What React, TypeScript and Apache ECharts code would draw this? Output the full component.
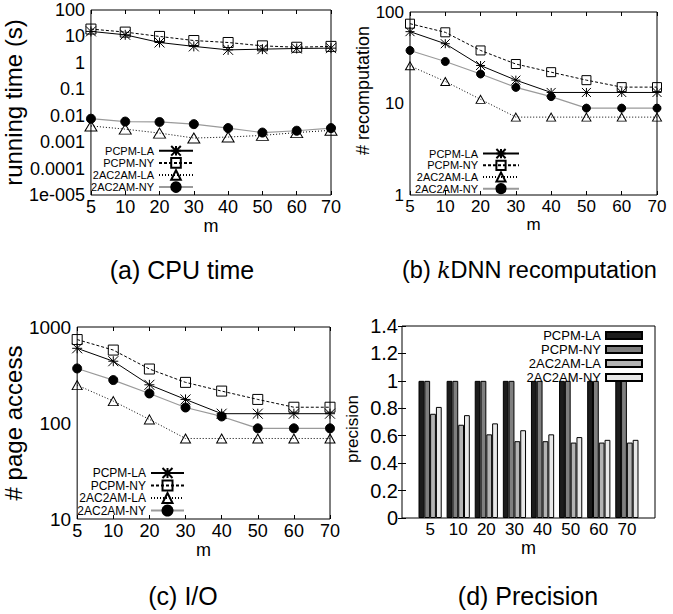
import React, { useEffect, useRef } from 'react';
import * as echarts from 'echarts';

const mValues = ['5', '10', '20', '30', '40', '50', '60', '70'];
const seriesNames = ['PCPM-LA', 'PCPM-NY', '2AC2AM-LA', '2AC2AM-NY'];

// (a) CPU time (s)
const cpuPcpmLA = [15.5, 11.5, 5.9, 4.2, 3.1, 3.3, 3.5, 3.6];
const cpuPcpmNY = [19, 14.6, 10, 7, 5.9, 4.4, 3.9, 4.2];
const cpu2acLA = [0.0041, 0.0031, 0.0022, 0.00143, 0.00156, 0.0018, 0.0023, 0.0028];
const cpu2acNY = [0.0077, 0.006, 0.0058, 0.0048, 0.0034, 0.0023, 0.0027, 0.0034];
const cpuTicks = ['1e-005', '0.0001', '0.001', '0.01', '0.1', '1', '10', '100'];

// (b) # recomputation
const recPcpmLA = [61, 45, 26, 18, 13.2, 13.2, 13.2, 13.2];
const recPcpmNY = [74.5, 60, 38, 27, 22, 18, 15.1, 15.1];
const rec2acLA = [25.8, 17.4, 11.1, 7.1, 7.1, 7.1, 7.1, 7.1];
const rec2acNY = [38, 28.8, 21, 15, 11.9, 8.9, 8.9, 8.9];
const recTicks = ['1', '10', '100'];

// (c) # page access
const ioPcpmLA = [600, 440, 250, 176, 125, 125, 125, 125];
const ioPcpmNY = [740, 575, 365, 265, 215, 176, 146, 146];
const io2acLA = [248, 169, 109, 69, 69, 69, 69, 69];
const io2acNY = [370, 280, 203, 145, 117, 88, 88, 88];
const ioTicks = ['10', '100', '1000'];

// (d) precision
const precPcpmLA = [1, 1, 1, 1, 1, 1, 1, 1];
const precPcpmNY = [1, 1, 1, 1, 1, 1, 1, 1];
const prec2acLA = [0.76, 0.68, 0.61, 0.56, 0.56, 0.55, 0.55, 0.55];
const prec2acNY = [0.81, 0.75, 0.69, 0.64, 0.61, 0.59, 0.57, 0.57];

const captions = ['(a) CPU time', '(b) {k|k}DNN recomputation', '(c) I/O', '(d) Precision'];

const FONT = '"Liberation Sans", Arial, Helvetica, sans-serif';
const ASTERISK = 'path://M0 0L10 10M10 0L0 10M5 0L5 10M0 5L10 5';

const grids = [
  { left: 83, top: 10, width: 248, height: 185 },
  { left: 410, top: 12, width: 247, height: 183 },
  { left: 68, top: 327, width: 262, height: 192 },
  { left: 402, top: 326, width: 253, height: 192 },
];

const lineStyles = [
  { color: '#000', type: 'solid', width: 1 },
  { color: '#000', type: [3, 2], width: 1 },
  { color: '#000', type: [1, 2], width: 1 },
  { color: '#9a9a9a', type: 'solid', width: 1.2 },
];
const symbols = [ASTERISK, 'rect', 'triangle', 'circle'];
const symbolFills = ['#000', 'rgba(0,0,0,0)', 'rgba(0,0,0,0)', '#000'];
const barColors = ['#1c1c1c', '#7f7f7f', '#b3b3b3', '#e8e8e8'];

const logLabel = (ticks: string[], minExp: number) => (v: number) =>
  ticks[Math.round(Math.log10(v)) - minExp] ?? '';

function lineSeries(tag: string, grid: number, datas: number[][], sizes: any[]) {
  return datas.map((d, k) => ({
    name: seriesNames[k] + '#' + tag,
    type: 'line',
    xAxisIndex: grid * 2,
    yAxisIndex: grid * 2,
    data: d,
    symbol: symbols[k],
    symbolSize: sizes[k],
    showSymbol: true,
    lineStyle: lineStyles[k],
    itemStyle: { color: symbolFills[k], borderColor: '#000', borderWidth: 1, borderType: 'solid' },
    z: 10 - k,
  }));
}

function catX(grid: number, fontSize: number, nameGap: number, nameSize: number) {
  return [
    {
      gridIndex: grid,
      type: 'category',
      data: mValues,
      boundaryGap: false,
      name: 'm',
      nameLocation: 'middle',
      nameGap,
      nameTextStyle: { fontFamily: FONT, fontSize: nameSize, color: '#000' },
      axisLine: { show: false },
      axisTick: { inside: true, length: 4, lineStyle: { color: '#000' } },
      axisLabel: { interval: 0, margin: 3, fontFamily: FONT, fontSize, color: '#000' },
      splitLine: { show: false },
    },
    {
      gridIndex: grid,
      type: 'category',
      data: mValues,
      boundaryGap: false,
      position: 'top',
      axisLine: { show: false },
      axisTick: { inside: true, length: 4, lineStyle: { color: '#000' } },
      axisLabel: { show: false },
      splitLine: { show: false },
    },
  ];
}

function logY(grid: number, min: number, max: number, ticks: string[], minExp: number, fontSize: number,
  name: string, nameSize: number, nameGap: number, namePad: number[]) {
  const base = {
    gridIndex: grid,
    type: 'log',
    logBase: 10,
    min,
    max,
    splitNumber: ticks.length - 1,
    axisLine: { show: false },
    axisTick: { inside: true, length: 4, lineStyle: { color: '#000' } },
    splitLine: { show: false },
    minorTick: { show: false },
  };
  return [
    {
      ...base,
      name,
      nameLocation: 'middle',
      nameRotate: 90,
      nameGap,
      nameTextStyle: { fontFamily: FONT, fontSize: nameSize, color: '#000', padding: namePad },
      axisLabel: { formatter: logLabel(ticks, minExp), fontFamily: FONT, fontSize, color: '#000', margin: 6 },
    },
    { ...base, position: 'right', axisLabel: { show: false } },
  ];
}

function legendFor(tag: string, right: number, top: number, fontSize: number, itemHeight: number,
  itemGap: number, itemWidth: number, icon?: string) {
  return {
    data: seriesNames.map((n) => n + '#' + tag),
    formatter: (n: string) => n.split('#')[0],
    orient: 'vertical',
    align: 'right',
    right,
    top,
    padding: 0,
    itemGap,
    itemWidth,
    itemHeight,
    selectedMode: false,
    itemStyle: { borderType: 'solid' },
    ...(icon ? { icon } : {}),
    textStyle: { fontFamily: FONT, fontSize, color: '#000', padding: 0 },
  };
}

export default function App() {
  const ref = useRef<HTMLDivElement>(null);
  useEffect(() => {
    if (!ref.current) return;
    const chart = echarts.init(ref.current, undefined, { renderer: 'svg' });
    const gridOpts = grids.map((g) => ({
      ...g,
      show: true,
      borderColor: '#000',
      borderWidth: 1,
      backgroundColor: 'transparent',
      containLabel: false,
    }));

    const xAxes: any[] = [
      ...catX(0, 18, 14, 18),
      ...catX(1, 17, 14, 17),
      ...catX(2, 18, 14, 18),
      {
        gridIndex: 3,
        type: 'value',
        min: 0,
        max: 9,
        interval: 1,
        name: 'm',
        nameLocation: 'middle',
        nameGap: 16,
        nameTextStyle: { fontFamily: FONT, fontSize: 18, color: '#000' },
        axisLine: { show: false },
        axisTick: { show: false },
        axisLabel: {
          margin: 3,
          fontFamily: FONT,
          fontSize: 17,
          color: '#000',
          formatter: (v: number) => mValues[v - 1] ?? '',
        },
        splitLine: { show: false },
      },
      {
        gridIndex: 3,
        type: 'value',
        min: 0,
        max: 9,
        interval: 1,
        position: 'top',
        show: false,
      },
    ];

    const yAxes: any[] = [
      ...logY(0, 1e-5, 100, cpuTicks, -5, 18, 'running time (s)', 24, 54, [0, 0, 0, 0]),
      ...logY(1, 1, 100, recTicks, 0, 17, '# recomputation', 18, 31, [0, 0, 0, 26]),
      ...logY(2, 10, 1000, ioTicks, 1, 19, '# page access', 24, 41, [0, 0, 0, 0]),
      {
        gridIndex: 3,
        type: 'value',
        min: 0,
        max: 1.4,
        interval: 0.2,
        name: 'precision',
        nameLocation: 'middle',
        nameRotate: 90,
        nameGap: 41,
        nameTextStyle: { fontFamily: FONT, fontSize: 17, color: '#000', padding: [0, 14, 0, 0] },
        axisLine: { show: false },
        axisTick: { inside: true, length: 4, lineStyle: { color: '#000' } },
        axisLabel: { fontFamily: FONT, fontSize: 20, color: '#000', margin: 4 },
        splitLine: { show: false },
      },
      {
        gridIndex: 3,
        type: 'value',
        min: 0,
        max: 1.4,
        interval: 0.2,
        position: 'right',
        axisLine: { show: false },
        axisTick: { inside: true, length: 4, lineStyle: { color: '#000' } },
        axisLabel: { show: false },
        splitLine: { show: false },
      },
    ];

    const series: any[] = [
      ...lineSeries('a', 0, [cpuPcpmLA, cpuPcpmNY, cpu2acLA, cpu2acNY], [10, 10, [12, 10], 9]),
      ...lineSeries('b', 1, [recPcpmLA, recPcpmNY, rec2acLA, rec2acNY], [9, 9, [9, 8], 8]),
      ...lineSeries('c', 2, [ioPcpmLA, ioPcpmNY, io2acLA, io2acNY], [10, 10, [10, 9], 9]),
      ...[precPcpmLA, precPcpmNY, prec2acLA, prec2acNY].map((d, k) => ({
        name: seriesNames[k] + '#d',
        type: 'bar',
        xAxisIndex: 6,
        yAxisIndex: 6,
        data: d.map((v, i) => [i + 1, v]),
        barWidth: 5.8,
        barGap: '0%',
        itemStyle: { color: barColors[k], borderColor: '#000', borderWidth: 1 },
      })),
    ];

    const capStyle = { fontFamily: FONT, fontSize: 25, fill: '#000', verticalAlign: 'middle' };
    const graphic = [
      { type: 'text', x: 182, y: 270, style: { ...capStyle, text: captions[0], align: 'center' } },
      {
        type: 'text',
        x: 402,
        y: 270,
        style: {
          ...capStyle,
          fontSize: 23.5,
          text: captions[1],
          align: 'left',
          rich: { k: { fontFamily: '"DejaVu Serif", serif', fontStyle: 'italic', fontSize: 22, fill: '#000' } },
        },
      },
      { type: 'text', x: 183, y: 596, style: { ...capStyle, text: captions[2], align: 'center' } },
      { type: 'text', x: 528, y: 596, style: { ...capStyle, text: captions[3], align: 'center' } },
    ];

    chart.setOption({
      animation: false,
      backgroundColor: '#fff',
      grid: gridOpts,
      xAxis: xAxes,
      yAxis: yAxes,
      legend: [
        legendFor('a', 479, 145, 11, 12, 0.5, 34),
        legendFor('b', 153, 148, 11, 11.5, 0.5, 36),
        legendFor('c', 488, 467, 12, 12.5, 0.5, 33),
        legendFor('d', 30, 329, 13, 7, 1, 36, 'rect'),
      ],
      series,
      graphic,
    });
    return () => chart.dispose();
  }, []);
  return <div ref={ref} style={{ position: 'absolute', left: 0, top: 0, width: 673, height: 614 }} />;
}
